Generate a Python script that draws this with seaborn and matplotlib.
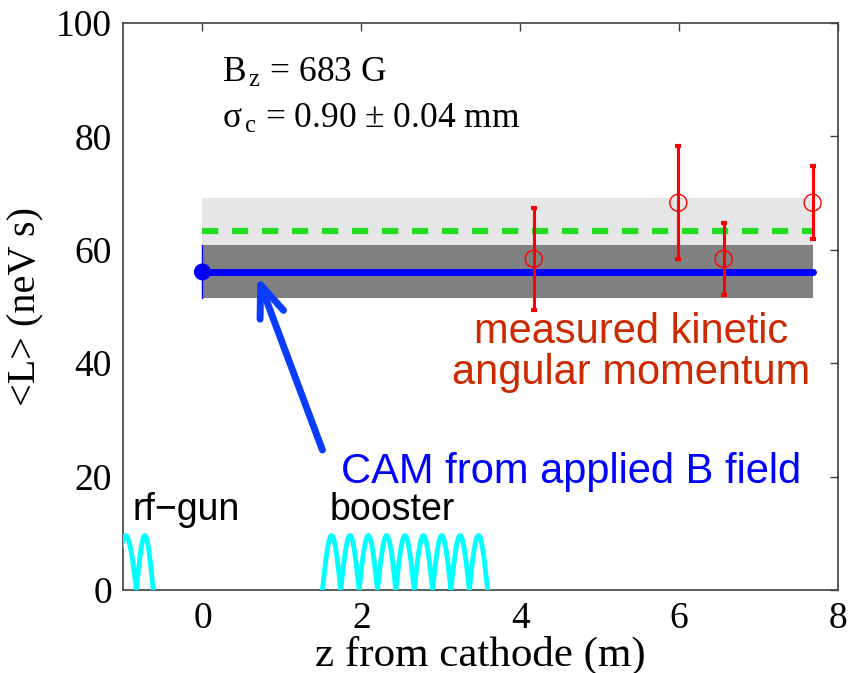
import numpy as np
import pandas as pd
import matplotlib
matplotlib.use("Agg")
import matplotlib.pyplot as plt
import seaborn as sns

# ---- data -------------------------------------------------------------
# measured kinetic angular momentum
z_meas = [4.17, 5.99, 6.56, 7.68]
L_meas = [58.4, 68.3, 58.4, 68.3]
L_err = [9.0, 10.0, 6.4, 6.4]

# canonical angular momentum from applied B field (value and band)
z_cam = [0.0, 7.69]
L_cam = 56.1
L_cam_lo, L_cam_hi = 51.5, 60.8

# expected value (dashed) and its band
L_exp = 63.3
L_exp_lo, L_exp_hi = 57.5, 69.1

# rf cavities on-axis field profile (arbitrary scale)
gun_nodes = [-1.10, -0.83, -0.62]
booster_start, booster_end, booster_cells = 1.51, 3.59, 9
cavity_peak = 9.6

x_ticks = [0, 2, 4, 6, 8]
y_ticks = [0, 20, 40, 60, 80, 100]

# ---- style ------------------------------------------------------------
sns.set_theme(style="white")
plt.rcParams["font.family"] = ["Liberation Serif", "DejaVu Serif"]
plt.rcParams["text.color"] = "black"
plt.rcParams["axes.labelcolor"] = "black"
plt.rcParams["mathtext.fontset"] = "custom"
plt.rcParams["mathtext.rm"] = "Liberation Serif"
plt.rcParams["mathtext.it"] = "Liberation Serif:italic"

fig = plt.figure(figsize=(8.5, 6.73), dpi=100)
ax = fig.add_axes([0.1447, 0.1233, 0.8412, 0.8425])

# bands
ax.fill_between(z_cam, [L_exp_lo] * 2, [L_exp_hi] * 2, color="#e6e6e6", lw=0, zorder=1)
ax.fill_between(z_cam, [L_cam_lo] * 2, [L_cam_hi] * 2, color="#808080", lw=0, zorder=2)

# expected value
sns.lineplot(x=z_cam, y=[L_exp] * 2, ax=ax, color="#22dd22", lw=4.5,
             zorder=3).lines[-1].set_dashes([2.6, 2.2])

# CAM line with start point and its uncertainty
sns.lineplot(x=z_cam, y=[L_cam] * 2, ax=ax, color="#0000ff", lw=5, zorder=4)
ax.plot([z_cam[0]] * 2, [L_cam_lo, L_cam_hi], color="#0000ff", lw=1, zorder=4)
sns.scatterplot(x=[z_cam[0]], y=[L_cam], ax=ax, color="#0000ff", s=150,
                edgecolor="none", zorder=5, clip_on=False)

# measurements
ax.errorbar(z_meas, L_meas, yerr=L_err, fmt="none", ecolor="#ff0000",
            elinewidth=2.2, capsize=2, capthick=3, zorder=6)
sns.scatterplot(x=z_meas, y=L_meas, ax=ax, marker="o", s=150,
                facecolor="none", edgecolor="#ff0000", linewidth=1.0, zorder=7)


def cavity_profile(nodes):
    zs, fs = [], []
    for a, b in zip(nodes[:-1], nodes[1:]):
        t = np.linspace(0, 1, 40)
        zs.extend(a + (b - a) * t)
        fs.extend(cavity_peak * np.sin(np.pi * t))
    return pd.DataFrame({"z": zs, "E": fs})


booster_nodes = np.linspace(booster_start, booster_end, booster_cells + 1)
for nodes in (gun_nodes, booster_nodes):
    prof = cavity_profile(list(nodes))
    sns.lineplot(data=prof, x="z", y="E", ax=ax, sort=False, estimator=None,
                 color="#00ffff", lw=3.5, zorder=3)

# annotations
sans = ["Liberation Sans", "DejaVu Sans"]
ax.text(-0.88, 12.3, "rf\u2212gun", fontsize=27, family=sans, color="black")
ax.text(1.60, 12.3, "booster", fontsize=27, family=sans, color="black")
ax.text(1.74, 18.9, "CAM from applied B field", fontsize=30, family=sans,
        color="#0000ff")
ax.text(5.39, 43.6, "measured kinetic", fontsize=30, family=sans,
        color="#cc2a00", ha="center")
ax.text(5.39, 36.3, "angular momentum", fontsize=30, family=sans,
        color="#cc2a00", ha="center")
ax.annotate("", xy=(0.69, 55.4), xytext=(1.51, 24.7),
            arrowprops=dict(arrowstyle="->,head_length=2.3,head_width=0.9",
                            mutation_scale=10, lw=5, color="#0a3cff",
                            capstyle="round", joinstyle="round",
                            shrinkA=0, shrinkB=0), zorder=8)

ax.text(0.24, 89.6, r"$\mathrm{B}_{\,\mathrm{z}}$ = 683 G", fontsize=25.5)
ax.text(0.24, 81.5, r"$\mathrm{\sigma}_{\,\mathrm{c}}$ = 0.90 $\pm$ 0.04 mm",
        fontsize=25.5)

# axes
ax.set_xlim(-1, 8)
ax.set_ylim(0, 100)
ax.set_xticks(x_ticks)
ax.set_yticks(y_ticks)
ax.tick_params(direction="in", top=True, right=True, length=6, width=1,
               color="#404040", labelsize=27, labelcolor="black", pad=8)
for s in ax.spines.values():
    s.set_color("#404040")
    s.set_linewidth(1.2)
ax.set_xlabel("z from cathode (m)", fontsize=31, labelpad=0)
ax.set_ylabel("<L> (neV s)", fontsize=29, labelpad=8)

fig.savefig("out.png", dpi=100)
